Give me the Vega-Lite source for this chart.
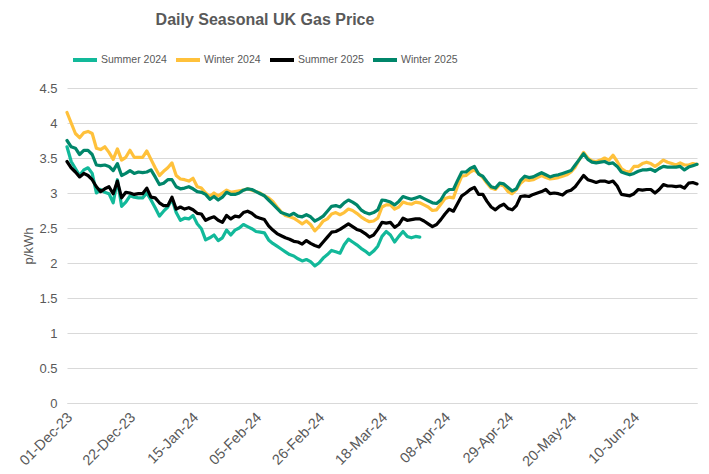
{
"$schema":"https://vega.github.io/schema/vega-lite/v6.json",
"width":630,"height":315,
"autosize":{"type":"none"},
"padding":{"left":67,"top":88,"right":12,"bottom":71},
"background":"white",
"config":{"view":{"stroke":null},"font":"Liberation Sans"},
"title":{"text":"Daily Seasonal UK Gas Price","anchor":"middle","dx":-117,"fontSize":16,"font":"Liberation Sans","fontWeight":"bold","color":"#595959","offset":18},
"data":{"values":[
{"i":0,"Summer 2024":3.66,"Winter 2024":4.15,"Summer 2025":3.45,"Winter 2025":3.75},
{"i":1,"Summer 2024":3.45,"Winter 2024":4.00,"Summer 2025":3.36,"Winter 2025":3.66},
{"i":2,"Summer 2024":3.35,"Winter 2024":3.85,"Summer 2025":3.30,"Winter 2025":3.64},
{"i":3,"Summer 2024":3.25,"Winter 2024":3.79,"Summer 2025":3.23,"Winter 2025":3.55},
{"i":4,"Summer 2024":3.33,"Winter 2024":3.86,"Summer 2025":3.28,"Winter 2025":3.61},
{"i":5,"Summer 2024":3.36,"Winter 2024":3.88,"Summer 2025":3.25,"Winter 2025":3.61},
{"i":6,"Summer 2024":3.28,"Winter 2024":3.85,"Summer 2025":3.19,"Winter 2025":3.55},
{"i":7,"Summer 2024":3.00,"Winter 2024":3.64,"Summer 2025":3.09,"Winter 2025":3.40},
{"i":8,"Summer 2024":3.05,"Winter 2024":3.62,"Summer 2025":3.02,"Winter 2025":3.39},
{"i":9,"Summer 2024":3.01,"Winter 2024":3.66,"Summer 2025":3.06,"Winter 2025":3.40},
{"i":10,"Summer 2024":2.99,"Winter 2024":3.58,"Summer 2025":3.09,"Winter 2025":3.38},
{"i":11,"Summer 2024":2.86,"Winter 2024":3.48,"Summer 2025":2.99,"Winter 2025":3.32},
{"i":12,"Summer 2024":3.19,"Winter 2024":3.63,"Summer 2025":3.17,"Winter 2025":3.42},
{"i":13,"Summer 2024":2.81,"Winter 2024":3.47,"Summer 2025":2.93,"Winter 2025":3.25},
{"i":14,"Summer 2024":2.87,"Winter 2024":3.51,"Summer 2025":3.01,"Winter 2025":3.28},
{"i":15,"Summer 2024":2.96,"Winter 2024":3.61,"Summer 2025":3.00,"Winter 2025":3.32},
{"i":16,"Summer 2024":2.94,"Winter 2024":3.51,"Summer 2025":2.98,"Winter 2025":3.28},
{"i":17,"Summer 2024":2.93,"Winter 2024":3.51,"Summer 2025":2.99,"Winter 2025":3.30},
{"i":18,"Summer 2024":2.93,"Winter 2024":3.51,"Summer 2025":2.99,"Winter 2025":3.29},
{"i":19,"Summer 2024":3.00,"Winter 2024":3.60,"Summer 2025":3.07,"Winter 2025":3.30},
{"i":20,"Summer 2024":2.90,"Winter 2024":3.48,"Summer 2025":2.94,"Winter 2025":3.33},
{"i":21,"Summer 2024":2.79,"Winter 2024":3.36,"Summer 2025":2.93,"Winter 2025":3.23},
{"i":22,"Summer 2024":2.67,"Winter 2024":3.25,"Summer 2025":2.86,"Winter 2025":3.12},
{"i":23,"Summer 2024":2.74,"Winter 2024":3.31,"Summer 2025":2.82,"Winter 2025":3.14},
{"i":24,"Summer 2024":2.80,"Winter 2024":3.36,"Summer 2025":2.82,"Winter 2025":3.19},
{"i":25,"Summer 2024":2.91,"Winter 2024":3.43,"Summer 2025":2.94,"Winter 2025":3.19},
{"i":26,"Summer 2024":2.72,"Winter 2024":3.25,"Summer 2025":2.77,"Winter 2025":3.09},
{"i":27,"Summer 2024":2.61,"Winter 2024":3.20,"Summer 2025":2.80,"Winter 2025":3.06},
{"i":28,"Summer 2024":2.64,"Winter 2024":3.19,"Summer 2025":2.77,"Winter 2025":3.07},
{"i":29,"Summer 2024":2.63,"Winter 2024":3.17,"Summer 2025":2.79,"Winter 2025":3.09},
{"i":30,"Summer 2024":2.68,"Winter 2024":3.21,"Summer 2025":2.76,"Winter 2025":3.06},
{"i":31,"Summer 2024":2.56,"Winter 2024":3.09,"Summer 2025":2.71,"Winter 2025":3.02},
{"i":32,"Summer 2024":2.49,"Winter 2024":3.07,"Summer 2025":2.70,"Winter 2025":3.01},
{"i":33,"Summer 2024":2.33,"Winter 2024":3.00,"Summer 2025":2.61,"Winter 2025":2.98},
{"i":34,"Summer 2024":2.36,"Winter 2024":2.95,"Summer 2025":2.64,"Winter 2025":2.91},
{"i":35,"Summer 2024":2.40,"Winter 2024":3.00,"Summer 2025":2.66,"Winter 2025":2.95},
{"i":36,"Summer 2024":2.32,"Winter 2024":2.96,"Summer 2025":2.61,"Winter 2025":2.90},
{"i":37,"Summer 2024":2.36,"Winter 2024":3.00,"Summer 2025":2.58,"Winter 2025":2.94},
{"i":38,"Summer 2024":2.47,"Winter 2024":3.04,"Summer 2025":2.68,"Winter 2025":3.01},
{"i":39,"Summer 2024":2.40,"Winter 2024":3.01,"Summer 2025":2.63,"Winter 2025":2.98},
{"i":40,"Summer 2024":2.47,"Winter 2024":3.02,"Summer 2025":2.67,"Winter 2025":2.98},
{"i":41,"Summer 2024":2.50,"Winter 2024":3.03,"Summer 2025":2.66,"Winter 2025":3.00},
{"i":42,"Summer 2024":2.55,"Winter 2024":3.04,"Summer 2025":2.72,"Winter 2025":3.04},
{"i":43,"Summer 2024":2.52,"Winter 2024":3.06,"Summer 2025":2.74,"Winter 2025":3.06},
{"i":44,"Summer 2024":2.49,"Winter 2024":3.04,"Summer 2025":2.71,"Winter 2025":3.05},
{"i":45,"Summer 2024":2.45,"Winter 2024":3.02,"Summer 2025":2.66,"Winter 2025":3.02},
{"i":46,"Summer 2024":2.44,"Winter 2024":3.00,"Summer 2025":2.64,"Winter 2025":2.99},
{"i":47,"Summer 2024":2.43,"Winter 2024":2.96,"Summer 2025":2.62,"Winter 2025":2.96},
{"i":48,"Summer 2024":2.33,"Winter 2024":2.93,"Summer 2025":2.53,"Winter 2025":2.90},
{"i":49,"Summer 2024":2.28,"Winter 2024":2.88,"Summer 2025":2.47,"Winter 2025":2.84},
{"i":50,"Summer 2024":2.24,"Winter 2024":2.80,"Summer 2025":2.42,"Winter 2025":2.78},
{"i":51,"Summer 2024":2.20,"Winter 2024":2.73,"Summer 2025":2.39,"Winter 2025":2.72},
{"i":52,"Summer 2024":2.16,"Winter 2024":2.68,"Summer 2025":2.36,"Winter 2025":2.70},
{"i":53,"Summer 2024":2.12,"Winter 2024":2.66,"Summer 2025":2.34,"Winter 2025":2.68},
{"i":54,"Summer 2024":2.10,"Winter 2024":2.64,"Summer 2025":2.31,"Winter 2025":2.71},
{"i":55,"Summer 2024":2.06,"Winter 2024":2.60,"Summer 2025":2.30,"Winter 2025":2.67},
{"i":56,"Summer 2024":2.03,"Winter 2024":2.56,"Summer 2025":2.27,"Winter 2025":2.66},
{"i":57,"Summer 2024":2.05,"Winter 2024":2.60,"Summer 2025":2.32,"Winter 2025":2.69},
{"i":58,"Summer 2024":2.02,"Winter 2024":2.55,"Summer 2025":2.28,"Winter 2025":2.66},
{"i":59,"Summer 2024":1.96,"Winter 2024":2.46,"Summer 2025":2.25,"Winter 2025":2.60},
{"i":60,"Summer 2024":2.00,"Winter 2024":2.52,"Summer 2025":2.23,"Winter 2025":2.63},
{"i":61,"Summer 2024":2.07,"Winter 2024":2.60,"Summer 2025":2.30,"Winter 2025":2.67},
{"i":62,"Summer 2024":2.12,"Winter 2024":2.63,"Summer 2025":2.37,"Winter 2025":2.74},
{"i":63,"Summer 2024":2.18,"Winter 2024":2.70,"Summer 2025":2.44,"Winter 2025":2.81},
{"i":64,"Summer 2024":2.16,"Winter 2024":2.72,"Summer 2025":2.45,"Winter 2025":2.82},
{"i":65,"Summer 2024":2.14,"Winter 2024":2.69,"Summer 2025":2.48,"Winter 2025":2.80},
{"i":66,"Summer 2024":2.26,"Winter 2024":2.72,"Summer 2025":2.52,"Winter 2025":2.86},
{"i":67,"Summer 2024":2.34,"Winter 2024":2.77,"Summer 2025":2.56,"Winter 2025":2.90},
{"i":68,"Summer 2024":2.30,"Winter 2024":2.75,"Summer 2025":2.52,"Winter 2025":2.87},
{"i":69,"Summer 2024":2.26,"Winter 2024":2.71,"Summer 2025":2.48,"Winter 2025":2.83},
{"i":70,"Summer 2024":2.21,"Winter 2024":2.66,"Summer 2025":2.46,"Winter 2025":2.76},
{"i":71,"Summer 2024":2.17,"Winter 2024":2.62,"Summer 2025":2.42,"Winter 2025":2.72},
{"i":72,"Summer 2024":2.12,"Winter 2024":2.59,"Summer 2025":2.37,"Winter 2025":2.70},
{"i":73,"Summer 2024":2.17,"Winter 2024":2.60,"Summer 2025":2.40,"Winter 2025":2.72},
{"i":74,"Summer 2024":2.24,"Winter 2024":2.64,"Summer 2025":2.48,"Winter 2025":2.76},
{"i":75,"Summer 2024":2.38,"Winter 2024":2.80,"Summer 2025":2.58,"Winter 2025":2.90},
{"i":76,"Summer 2024":2.45,"Winter 2024":2.83,"Summer 2025":2.57,"Winter 2025":2.89},
{"i":77,"Summer 2024":2.40,"Winter 2024":2.83,"Summer 2025":2.58,"Winter 2025":2.87},
{"i":78,"Summer 2024":2.30,"Winter 2024":2.77,"Summer 2025":2.51,"Winter 2025":2.83},
{"i":79,"Summer 2024":2.38,"Winter 2024":2.80,"Summer 2025":2.55,"Winter 2025":2.88},
{"i":80,"Summer 2024":2.45,"Winter 2024":2.87,"Summer 2025":2.64,"Winter 2025":2.95},
{"i":81,"Summer 2024":2.38,"Winter 2024":2.85,"Summer 2025":2.61,"Winter 2025":2.93},
{"i":82,"Summer 2024":2.36,"Winter 2024":2.84,"Summer 2025":2.62,"Winter 2025":2.91},
{"i":83,"Summer 2024":2.38,"Winter 2024":2.87,"Summer 2025":2.63,"Winter 2025":2.93},
{"i":84,"Summer 2024":2.37,"Winter 2024":2.86,"Summer 2025":2.63,"Winter 2025":2.95},
{"i":85,"Winter 2024":2.83,"Summer 2025":2.60,"Winter 2025":2.92},
{"i":86,"Winter 2024":2.80,"Summer 2025":2.56,"Winter 2025":2.89},
{"i":87,"Winter 2024":2.75,"Summer 2025":2.52,"Winter 2025":2.86},
{"i":88,"Winter 2024":2.76,"Summer 2025":2.55,"Winter 2025":2.85},
{"i":89,"Winter 2024":2.84,"Summer 2025":2.62,"Winter 2025":2.90},
{"i":90,"Winter 2024":2.92,"Summer 2025":2.70,"Winter 2025":3.00},
{"i":91,"Winter 2024":2.94,"Summer 2025":2.77,"Winter 2025":3.05},
{"i":92,"Winter 2024":2.93,"Summer 2025":2.74,"Winter 2025":3.05},
{"i":93,"Winter 2024":3.10,"Summer 2025":2.85,"Winter 2025":3.18},
{"i":94,"Winter 2024":3.24,"Summer 2025":2.96,"Winter 2025":3.30},
{"i":95,"Winter 2024":3.25,"Summer 2025":3.00,"Winter 2025":3.30},
{"i":96,"Winter 2024":3.30,"Summer 2025":3.05,"Winter 2025":3.35},
{"i":97,"Winter 2024":3.33,"Summer 2025":3.08,"Winter 2025":3.38},
{"i":98,"Winter 2024":3.28,"Summer 2025":2.98,"Winter 2025":3.27},
{"i":99,"Winter 2024":3.22,"Summer 2025":2.98,"Winter 2025":3.24},
{"i":100,"Winter 2024":3.14,"Summer 2025":2.88,"Winter 2025":3.16},
{"i":101,"Winter 2024":3.07,"Summer 2025":2.80,"Winter 2025":3.09},
{"i":102,"Winter 2024":3.05,"Summer 2025":2.76,"Winter 2025":3.07},
{"i":103,"Winter 2024":3.12,"Summer 2025":2.81,"Winter 2025":3.14},
{"i":104,"Winter 2024":3.10,"Summer 2025":2.84,"Winter 2025":3.13},
{"i":105,"Winter 2024":3.02,"Summer 2025":2.78,"Winter 2025":3.08},
{"i":106,"Winter 2024":2.99,"Summer 2025":2.76,"Winter 2025":3.03},
{"i":107,"Winter 2024":3.05,"Summer 2025":2.82,"Winter 2025":3.06},
{"i":108,"Winter 2024":3.14,"Summer 2025":2.95,"Winter 2025":3.18},
{"i":109,"Winter 2024":3.19,"Summer 2025":2.96,"Winter 2025":3.24},
{"i":110,"Winter 2024":3.18,"Summer 2025":2.95,"Winter 2025":3.22},
{"i":111,"Winter 2024":3.19,"Summer 2025":2.98,"Winter 2025":3.23},
{"i":112,"Winter 2024":3.22,"Summer 2025":3.00,"Winter 2025":3.26},
{"i":113,"Winter 2024":3.25,"Summer 2025":3.02,"Winter 2025":3.29},
{"i":114,"Winter 2024":3.22,"Summer 2025":3.05,"Winter 2025":3.26},
{"i":115,"Winter 2024":3.20,"Summer 2025":2.99,"Winter 2025":3.23},
{"i":116,"Winter 2024":3.21,"Summer 2025":3.00,"Winter 2025":3.25},
{"i":117,"Winter 2024":3.22,"Summer 2025":2.99,"Winter 2025":3.26},
{"i":118,"Winter 2024":3.24,"Summer 2025":2.97,"Winter 2025":3.28},
{"i":119,"Winter 2024":3.26,"Summer 2025":3.02,"Winter 2025":3.30},
{"i":120,"Winter 2024":3.30,"Summer 2025":3.04,"Winter 2025":3.32},
{"i":121,"Winter 2024":3.37,"Summer 2025":3.09,"Winter 2025":3.40},
{"i":122,"Winter 2024":3.48,"Summer 2025":3.17,"Winter 2025":3.48},
{"i":123,"Winter 2024":3.58,"Summer 2025":3.25,"Winter 2025":3.56},
{"i":124,"Winter 2024":3.50,"Summer 2025":3.19,"Winter 2025":3.48},
{"i":125,"Winter 2024":3.46,"Summer 2025":3.17,"Winter 2025":3.44},
{"i":126,"Winter 2024":3.45,"Summer 2025":3.15,"Winter 2025":3.43},
{"i":127,"Winter 2024":3.47,"Summer 2025":3.17,"Winter 2025":3.44},
{"i":128,"Winter 2024":3.50,"Summer 2025":3.17,"Winter 2025":3.45},
{"i":129,"Winter 2024":3.47,"Summer 2025":3.15,"Winter 2025":3.42},
{"i":130,"Winter 2024":3.54,"Summer 2025":3.17,"Winter 2025":3.43},
{"i":131,"Winter 2024":3.45,"Summer 2025":3.10,"Winter 2025":3.38},
{"i":132,"Winter 2024":3.35,"Summer 2025":2.98,"Winter 2025":3.30},
{"i":133,"Winter 2024":3.31,"Summer 2025":2.97,"Winter 2025":3.28},
{"i":134,"Winter 2024":3.30,"Summer 2025":2.96,"Winter 2025":3.26},
{"i":135,"Winter 2024":3.38,"Summer 2025":2.99,"Winter 2025":3.28},
{"i":136,"Winter 2024":3.38,"Summer 2025":3.05,"Winter 2025":3.31},
{"i":137,"Winter 2024":3.42,"Summer 2025":3.04,"Winter 2025":3.33},
{"i":138,"Winter 2024":3.44,"Summer 2025":3.05,"Winter 2025":3.33},
{"i":139,"Winter 2024":3.42,"Summer 2025":3.05,"Winter 2025":3.34},
{"i":140,"Winter 2024":3.38,"Summer 2025":3.00,"Winter 2025":3.31},
{"i":141,"Winter 2024":3.42,"Summer 2025":3.05,"Winter 2025":3.35},
{"i":142,"Winter 2024":3.47,"Summer 2025":3.12,"Winter 2025":3.38},
{"i":143,"Winter 2024":3.44,"Summer 2025":3.10,"Winter 2025":3.37},
{"i":144,"Winter 2024":3.42,"Summer 2025":3.10,"Winter 2025":3.37},
{"i":145,"Winter 2024":3.40,"Summer 2025":3.09,"Winter 2025":3.37},
{"i":146,"Winter 2024":3.43,"Summer 2025":3.10,"Winter 2025":3.38},
{"i":147,"Winter 2024":3.40,"Summer 2025":3.07,"Winter 2025":3.33},
{"i":148,"Winter 2024":3.40,"Summer 2025":3.14,"Winter 2025":3.37},
{"i":149,"Winter 2024":3.42,"Summer 2025":3.15,"Winter 2025":3.39},
{"i":150,"Winter 2024":3.41,"Summer 2025":3.13,"Winter 2025":3.41}
]},
"transform":[{"fold":["Summer 2024","Winter 2024","Summer 2025","Winter 2025"],"as":["series","price"]}],
"mark":{"type":"line","strokeWidth":3.2,"strokeJoin":"round","strokeCap":"round"},
"encoding":{
"x":{"field":"i","type":"quantitative","scale":{"domain":[0,150],"nice":false,"zero":false},
"axis":{"values":[0,15,30,45,60,75,90,105,120,135],"labelExpr":"['01-Dec-23','22-Dec-23','15-Jan-24','05-Feb-24','26-Feb-24','18-Mar-24','08-Apr-24','29-Apr-24','20-May-24','10-Jun-24'][round(datum.value/15)]","labelAngle":-45,"labelAlign":"right","labelBaseline":"middle","labelPadding":12,"labelOffset":3,"labelFontSize":14.5,"labelColor":"#595959","labelFont":"Liberation Sans","ticks":false,"grid":false,"domain":true,"domainColor":"#d9d9d9","title":null,"labelBound":false,"labelOverlap":false,"labelFlush":false}},
"y":{"field":"price","type":"quantitative","scale":{"domain":[0,4.5],"nice":false},
"axis":{"values":[0,0.5,1,1.5,2,2.5,3,3.5,4,4.5],"format":"~g","grid":true,"gridColor":"#d9d9d9","domain":false,"ticks":false,"labelPadding":10,"labelFontSize":13,"labelColor":"#595959","labelFont":"Liberation Sans","title":"p/kWh","titleFont":"Liberation Sans","titleFontSize":13,"titleFontWeight":"normal","titleColor":"#595959","titlePadding":3}},
"color":{"field":"series","type":"nominal","scale":{"domain":["Summer 2024","Winter 2024","Summer 2025","Winter 2025"],"range":["#12B99A","#FFC13B","#000000","#00866A"]},
"legend":{"orient":"none","legendX":4,"legendY":-42,"direction":"horizontal","title":null,"symbolType":"stroke","symbolSize":576,"symbolStrokeWidth":4,"labelFontSize":10.5,"labelFont":"Liberation Sans","labelColor":"#595959","labelOffset":2,"columnPadding":1,"padding":0}}
}
}
